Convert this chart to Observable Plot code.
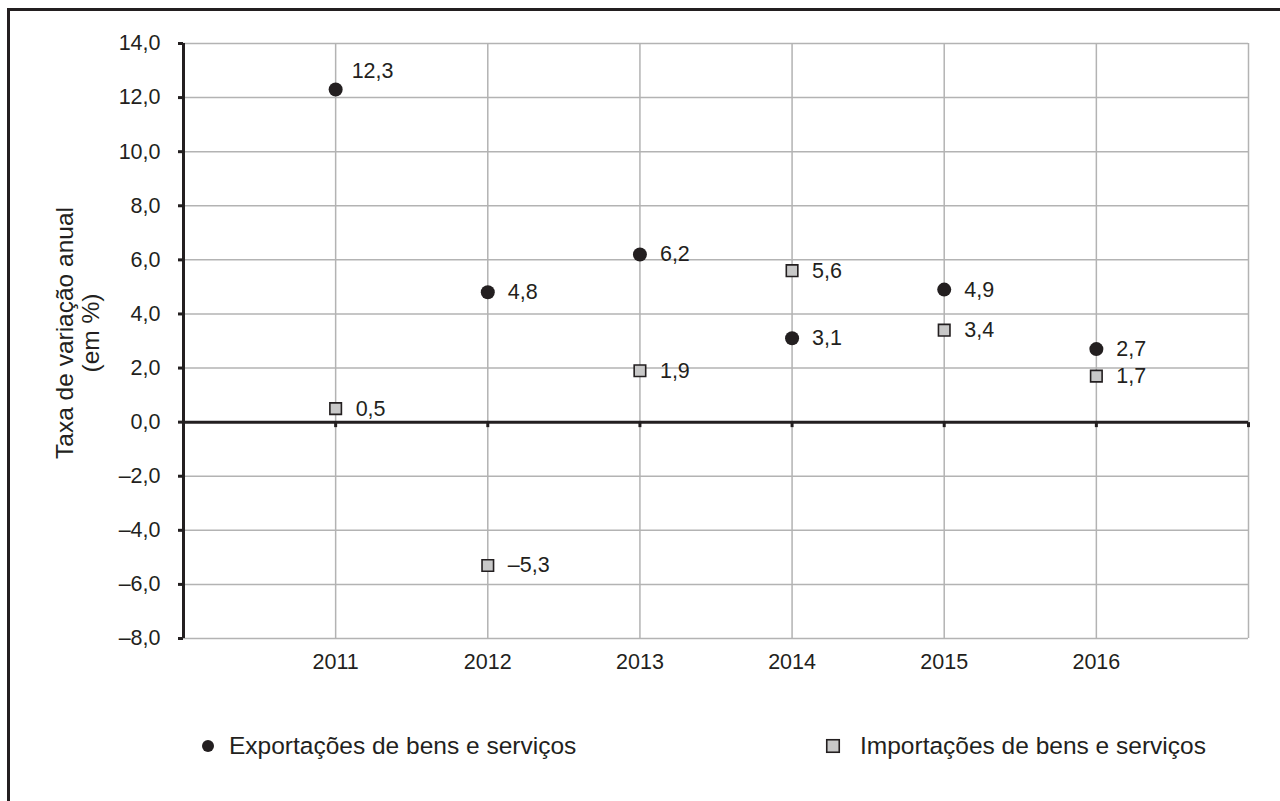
<!DOCTYPE html>
<html>
<head>
<meta charset="utf-8">
<script src="https://cdn.jsdelivr.net/npm/d3@7"></script>
<script src="https://cdn.jsdelivr.net/npm/@observablehq/plot@0.6"></script>
<style>
  html, body { margin: 0; padding: 0; background: #fff; }
  body { width: 1280px; height: 801px; position: relative; overflow: hidden; font-family: "Liberation Sans", Arial, sans-serif; color: #231f20; }
  #frame { position: absolute; left: 7px; top: 8px; width: 1300px; height: 820px; border-top: 3px solid #231f20; border-left: 3px solid #231f20; box-sizing: border-box; }
  #chart { position: absolute; left: 0; top: 0; }
  .leg { position: absolute; top: 730px; font-size: 24.5px; line-height: 32px; white-space: nowrap; }
  .leg svg { position: absolute; }
</style>
</head>
<body>
<div id="frame"></div>
<div id="chart"></div>
<div class="leg" id="leg1" style="left:199px;"><svg width="16" height="16" style="left:1px;top:8px"><circle cx="8" cy="8" r="6" fill="#231f20"/></svg><span style="position:absolute;left:30px;top:0">Exportações de bens e serviços</span></div>
<div class="leg" id="leg2" style="left:824px;"><svg width="17" height="17" style="left:1px;top:8px"><rect x="1.75" y="1.75" width="12.5" height="12.5" fill="#c8c8c8" stroke="#231f20" stroke-width="1.6"/></svg><span style="position:absolute;left:36px;top:0">Importações de bens e serviços</span></div>
<script>
const years = [2011, 2012, 2013, 2014, 2015, 2016];
const exportacoes = [12.3, 4.8, 6.2, 3.1, 4.9, 2.7];
const importacoes = [0.5, -5.3, 1.9, 5.6, 3.4, 1.7];
const yTicks = [-8, -6, -4, -2, 0, 2, 4, 6, 8, 10, 12, 14];
const xDomain = [2010, 2017];
const xGrid = [2011, 2012, 2013, 2014, 2015, 2016, 2017];
const axisTicks = [2010, 2011, 2012, 2013, 2014, 2015, 2016, 2017];

const expData = years.map((year, i) => ({year, value: exportacoes[i]}));
const impData = years.map((year, i) => ({year, value: importacoes[i]}));

const fmt = v => v.toFixed(1).replace(".", ",").replace("-", "\u2013");
const dark = "#231f20";
const grid = "#b3b3b3";

const tickMark = {
  draw(context, size) {
    context.moveTo(0, 0);
    context.lineTo(0, 5);
  }
};

const chart = Plot.plot({
  width: 1280,
  height: 700,
  marginLeft: 183,
  marginRight: 32,
  marginTop: 43,
  marginBottom: 62,
  style: {fontFamily: "'Liberation Sans', Arial, sans-serif", color: dark, background: "transparent"},
  x: {domain: xDomain},
  y: {domain: [-8, 14]},
  marks: [
    Plot.gridY(yTicks, {stroke: grid, strokeOpacity: 1, strokeWidth: 1.5}),
    Plot.gridX(xGrid, {stroke: grid, strokeOpacity: 1, strokeWidth: 1.5}),
    Plot.ruleY([0], {stroke: dark, strokeWidth: 3}),
    Plot.dot(axisTicks, {x: d => d, y: 0, symbol: tickMark, stroke: dark, strokeWidth: 3, fill: "none"}),
    Plot.ruleX([xDomain[0]], {stroke: dark, strokeWidth: 3}),
    Plot.axisY(yTicks, {tickSize: 5, tickPadding: 18, tickFormat: fmt, fontSize: 21.5, stroke: dark, strokeWidth: 3, fill: dark, label: null}),
    Plot.axisX(years, {tickSize: 0, tickPadding: 15, tickFormat: d => String(d), fontSize: 21.5, fill: dark, label: null}),
    Plot.text(["Taxa de variação anual\n(em %)"], {frameAnchor: "left", textAnchor: "middle", dx: -106, dy: -8, rotate: -90, fontSize: 24.5, lineHeight: 1.07, fill: dark}),
    Plot.dot(expData, {x: "year", y: "value", r: 7, fill: dark, stroke: "none"}),
    Plot.dot(impData, {x: "year", y: "value", symbol: "square", r: 6.5, fill: "#c8c8c8", stroke: dark, strokeWidth: 1.6}),
    Plot.text(expData.filter(d => d.value >= 10), {x: "year", y: "value", text: d => fmt(d.value), textAnchor: "start", dx: 16, dy: -18, fontSize: 21.5, fill: dark}),
    Plot.text(expData.filter(d => d.value < 10), {x: "year", y: "value", text: d => fmt(d.value), textAnchor: "start", dx: 20, fontSize: 21.5, fill: dark}),
    Plot.text(impData, {x: "year", y: "value", text: d => fmt(d.value), textAnchor: "start", dx: 20, fontSize: 21.5, fill: dark})
  ]
});
document.getElementById("chart").appendChild(chart);
</script>
</body>
</html>
